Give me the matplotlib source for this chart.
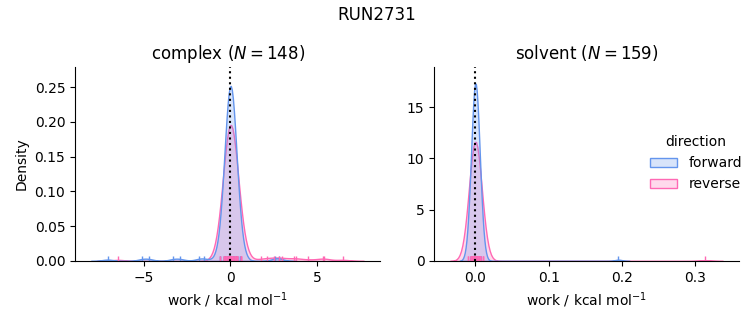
import numpy as np
import pandas as pd
import matplotlib
matplotlib.use("Agg")
import matplotlib.pyplot as plt
import seaborn as sns

run_name = "RUN2731"
phases = ["complex", "solvent"]
n_per_phase = [148, 159]
directions = ["forward", "reverse"]
palette = {"forward": "cornflowerblue", "reverse": "hotpink"}

# work values (kcal/mol) read from the rug, with how many samples sit at each value
complex_forward_work = [-7.1, -5.1, -4.7, -3.3, -2.9, -1.8, -1.5,
                        -0.6, -0.4, -0.25, -0.1, 0.0, 0.1, 0.25, 0.4, 0.55,
                        2.6, 2.8]
complex_forward_count = [1, 1, 1, 1, 1, 1, 1,
                         2, 3, 9, 25, 60, 25, 9, 4, 2,
                         1, 1]
complex_reverse_work = [-6.5,
                        -0.6, -0.4, -0.25, -0.1, 0.0, 0.1, 0.25, 0.4, 0.6,
                        1.76, 2.1, 2.5, 2.8, 3.0, 3.65, 3.8, 4.5, 5.35, 5.4, 6.5]
complex_reverse_count = [1,
                         2, 5, 12, 25, 44, 25, 12, 7, 4,
                         1, 1, 1, 1, 1, 1, 1, 1, 1, 1, 1]
solvent_forward_work = [-0.006, -0.004, -0.002, 0.0, 0.002, 0.004, 0.006, 0.195]
solvent_forward_count = [6, 16, 32, 46, 32, 17, 9, 1]
solvent_reverse_work = [-0.01, -0.006, -0.003, 0.0, 0.003, 0.006, 0.01, 0.313]
solvent_reverse_count = [2, 8, 35, 68, 33, 9, 3, 1]

samples = {
    ("complex", "forward"): (complex_forward_work, complex_forward_count),
    ("complex", "reverse"): (complex_reverse_work, complex_reverse_count),
    ("solvent", "forward"): (solvent_forward_work, solvent_forward_count),
    ("solvent", "reverse"): (solvent_reverse_work, solvent_reverse_count),
}

rows = []
for (phase, direction), (vals, counts) in samples.items():
    for v in np.repeat(vals, counts):
        rows.append({"phase": phase, "direction": direction, "work": v})
df = pd.DataFrame(rows)

g = sns.displot(df, x="work", col="phase", hue="direction", kind="kde",
                fill=True, rug=True, palette=palette, bw_adjust=0.9,
                hue_order=directions, col_order=phases,
                facet_kws=dict(sharex=False, sharey=False), height=3, aspect=1)

fig = g.figure
fig.set_size_inches(7.53, 3.25)
fig.subplots_adjust(left=0.0996, right=0.982, bottom=0.197, top=0.794, wspace=0.177)

xlims = {"complex": (-8.98, 8.65), "solvent": (-0.056, 0.36)}
ylims = {"complex": (0, 0.279), "solvent": (0, 18.93)}
for phase, n in zip(phases, n_per_phase):
    ax = g.axes_dict[phase]
    ax.axvline(0, color="black", ls=":", lw=1.5)
    ax.set_title(f"{phase} ($N = {n}$)")
    ax.set_xlabel("work / kcal mol$^{-1}$")
    ax.set_xlim(*xlims[phase])
    ax.set_ylim(*ylims[phase])
g.axes_dict["complex"].set_ylabel("Density")

sns.move_legend(g, "upper left", bbox_to_anchor=(0.846, 0.622), frameon=False)
fig.suptitle(run_name)
fig.savefig("out.png", dpi=100)
